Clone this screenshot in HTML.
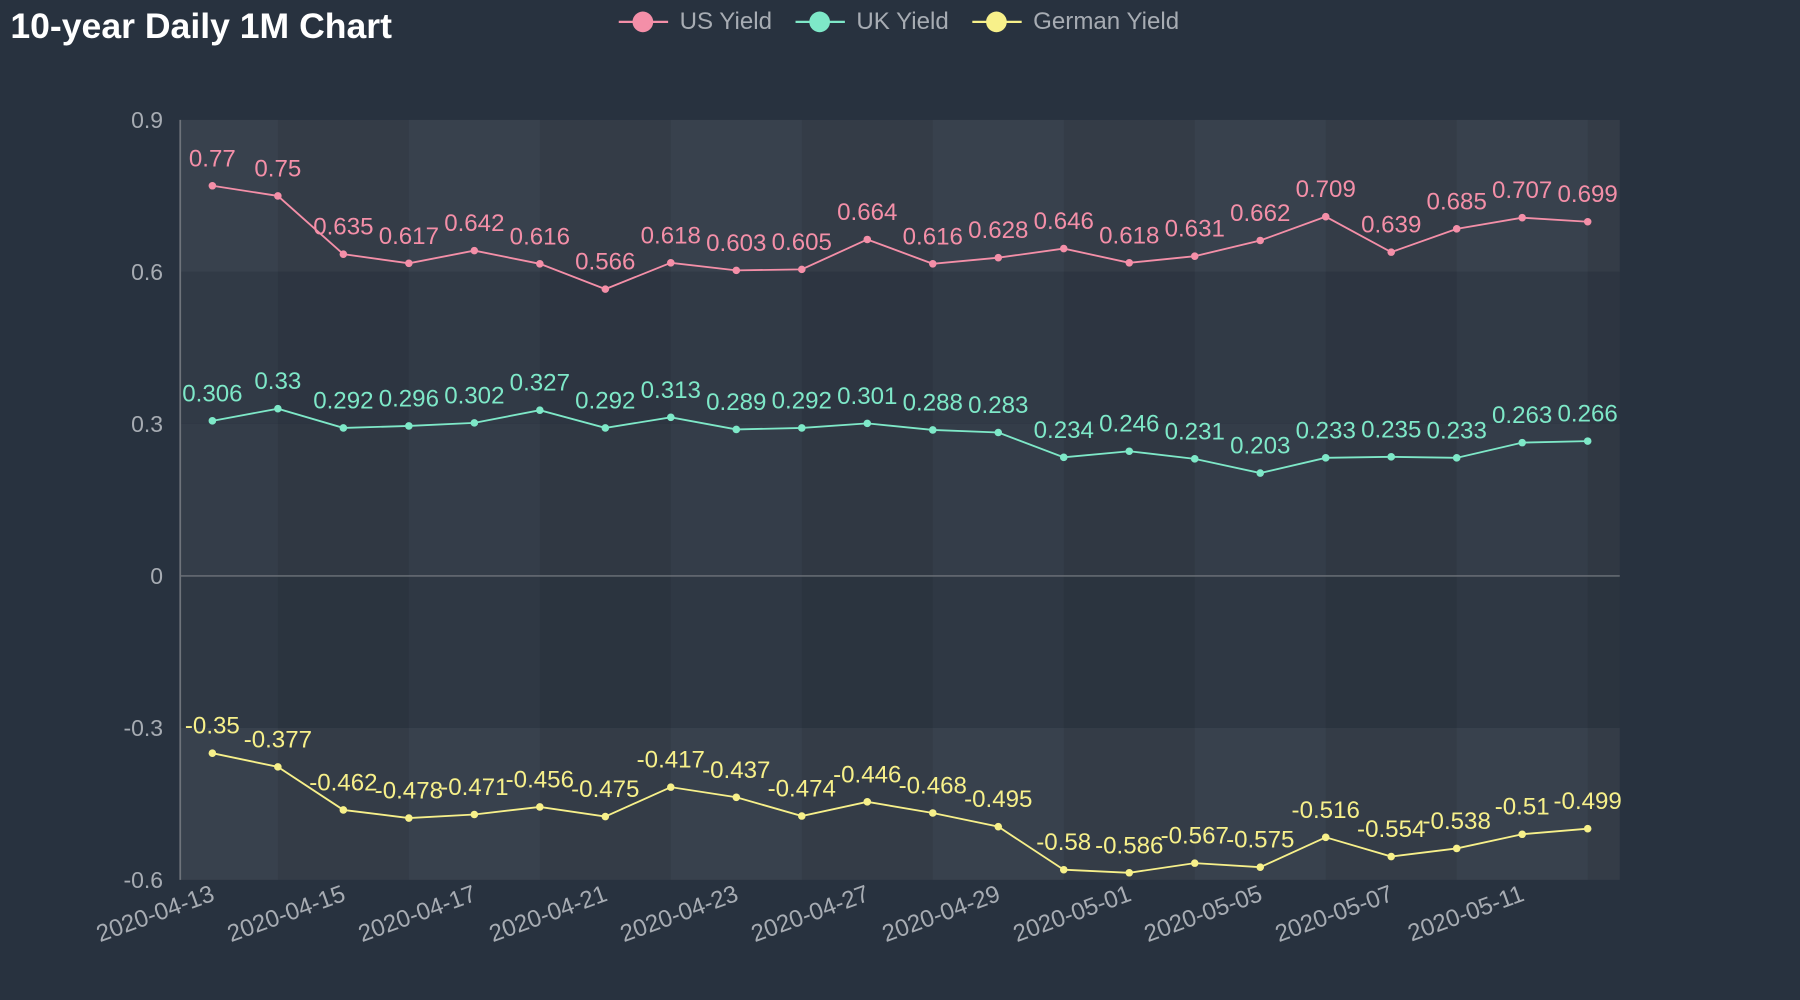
<!DOCTYPE html>
<html><head><meta charset="utf-8"><style>
html,body{margin:0;padding:0;background:#28323f;width:1800px;height:1000px;overflow:hidden}
svg{display:block}
text{font-family:"Liberation Sans",sans-serif}
</style></head><body>
<svg id="s" width="1800" height="1000" viewBox="0 0 1568 871" xmlns="http://www.w3.org/2000/svg">
<rect width="1568" height="871" fill="#28323f"/>
<text x="9" y="33" font-size="31" font-weight="bold" fill="#ffffff">10-year Daily 1M Chart</text>
<g font-size="21" fill="#a7acb3">
<line x1="539" y1="19" x2="582" y2="19" stroke="#f48fa8" stroke-width="2"/><circle cx="560" cy="19" r="9" fill="#f48fa8"/><text x="592" y="25">US Yield</text>
<line x1="693" y1="19" x2="736" y2="19" stroke="#7ee8c8" stroke-width="2"/><circle cx="714" cy="19" r="9" fill="#7ee8c8"/><text x="746" y="25">UK Yield</text>
<line x1="847" y1="19" x2="890" y2="19" stroke="#f7f08a" stroke-width="2"/><circle cx="868" cy="19" r="9" fill="#f7f08a"/><text x="900" y="25">German Yield</text>
</g>
<g id="g"></g>
</svg>
<script>
var g=document.getElementById('g'),h='';
var X0=157,X1=1411,Y=function(v){return 501.6-v/0.3*132.4};
var px=function(i){return 185+i*57.05};
var hb=[[0.9,0.6,'#38414d'],[0.6,0.3,'#313a46'],[0.3,0,'#343d49'],[0,-0.3,'#2f3844'],[-0.3,-0.6,'#38414d']];
hb.forEach(function(b){h+='<rect x="'+X0+'" y="'+Y(b[0])+'" width="'+(X1-X0)+'" height="'+(Y(b[1])-Y(b[0]))+'" fill="'+b[2]+'"/>';});
var edges=[X0];for(var i=1;i<22;i+=2)edges.push(px(i));edges.push(X1);
for(var k=0;k<edges.length-1;k++){if(k%2==1)h+='<rect x="'+edges[k]+'" y="'+Y(0.9)+'" width="'+(edges[k+1]-edges[k])+'" height="'+(Y(-0.6)-Y(0.9))+'" fill="#000" fill-opacity="0.07"/>';}
h+='<line x1="'+X0+'" y1="'+Y(0.9)+'" x2="'+X0+'" y2="'+Y(-0.6)+'" stroke="#6e737a" stroke-width="1.5"/>';
h+='<line x1="'+X0+'" y1="'+Y(0)+'" x2="'+X1+'" y2="'+Y(0)+'" stroke="#6e737a" stroke-width="1.2"/>';
[[0.9,'0.9'],[0.6,'0.6'],[0.3,'0.3'],[0,'0'],[-0.3,'-0.3'],[-0.6,'-0.6']].forEach(function(t){h+='<text x="142" y="'+(Y(t[0])+7)+'" font-size="20" fill="#a7acb3" text-anchor="end">'+t[1]+'</text>';});
var d=['2020-04-13','2020-04-15','2020-04-17','2020-04-21','2020-04-23','2020-04-27','2020-04-29','2020-05-01','2020-05-05','2020-05-07','2020-05-11'];
d.forEach(function(s,k){var x=px(k*2)+3,y=784;h+='<text x="'+x+'" y="'+y+'" font-size="21" fill="#a7acb3" text-anchor="end" transform="rotate(-20 '+x+' '+y+')">'+s+'</text>';});
var S=[['#f48fa8',[0.77,0.75,0.635,0.617,0.642,0.616,0.566,0.618,0.603,0.605,0.664,0.616,0.628,0.646,0.618,0.631,0.662,0.709,0.639,0.685,0.707,0.699]],
['#7ee8c8',[0.306,0.33,0.292,0.296,0.302,0.327,0.292,0.313,0.289,0.292,0.301,0.288,0.283,0.234,0.246,0.231,0.203,0.233,0.235,0.233,0.263,0.266]],
['#f7f08a',[-0.35,-0.377,-0.462,-0.478,-0.471,-0.456,-0.475,-0.417,-0.437,-0.474,-0.446,-0.468,-0.495,-0.58,-0.586,-0.567,-0.575,-0.516,-0.554,-0.538,-0.51,-0.499]]];
S.forEach(function(s){var c=s[0],v=s[1],p='';
v.forEach(function(a,i){p+=(i?'L':'M')+px(i)+' '+Y(a);});
h+='<path d="'+p+'" fill="none" stroke="'+c+'" stroke-width="1.6"/>';
v.forEach(function(a,i){h+='<circle cx="'+px(i)+'" cy="'+Y(a)+'" r="3.3" fill="'+c+'"/>';
h+='<text x="'+px(i)+'" y="'+(Y(a)-17)+'" font-size="21" fill="'+c+'" text-anchor="middle">'+a+'</text>';});
});
g.innerHTML=h;
</script>
</body></html>
